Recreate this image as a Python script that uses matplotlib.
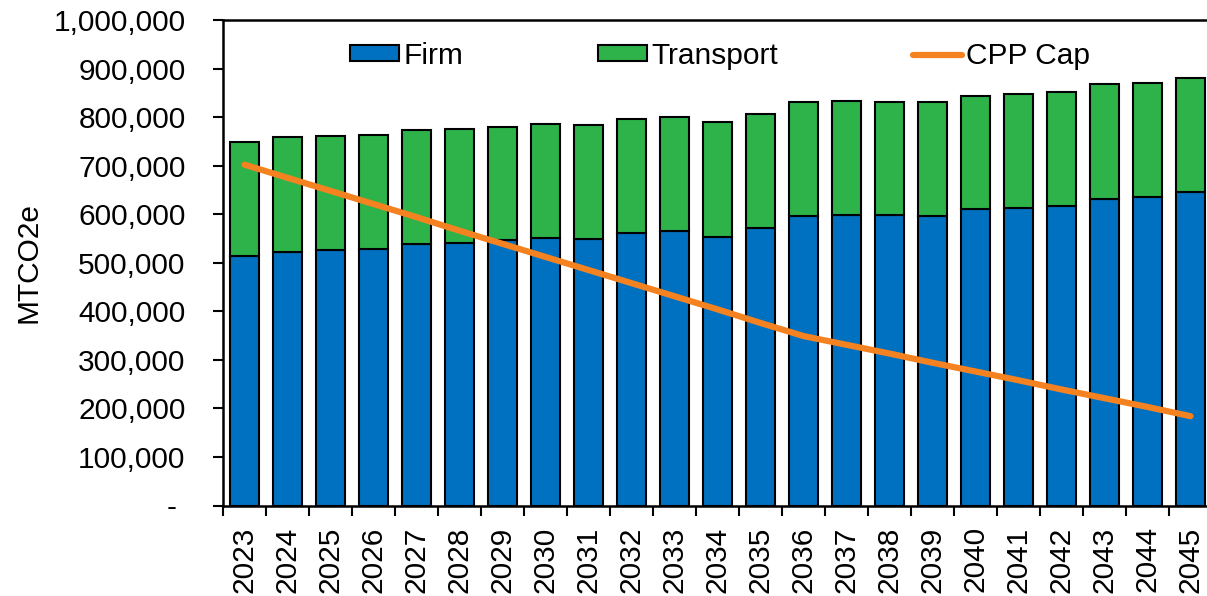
import matplotlib
matplotlib.use("Agg")
import matplotlib.pyplot as plt
import numpy as np
from matplotlib.ticker import FuncFormatter, FixedLocator

plt.rcParams['font.family'] = ['Liberation Sans', 'DejaVu Sans']

years = [str(y) for y in range(2023, 2046)]
firm = [513000, 523000, 526000, 528000, 539000, 541000, 546000, 551000, 549000,
        562000, 566000, 554000, 572000, 597000, 599000, 598000, 597000, 610000,
        613000, 617000, 632000, 635000, 645000]
total = [748000, 758000, 761000, 763000, 774000, 776000, 780000, 786000, 784000,
         796000, 800000, 790000, 807000, 831000, 833000, 832000, 831000, 844000,
         848000, 852000, 868000, 871000, 881000]
transport = [t - f for t, f in zip(total, firm)]
cpp_cap = [702000, 675000, 648000, 621000, 594000, 566000, 539000, 512000, 485000,
           458000, 431000, 404000, 376000, 349000, 331000, 313000, 294000, 276000,
           258000, 239000, 221000, 203000, 184000]

fig = plt.figure(figsize=(12.07, 5.96), dpi=100)
ax = fig.add_axes([223 / 1207, (596 - 505.5) / 596, 989 / 1207, 485.5 / 596])

x = np.arange(len(years))
b1 = ax.bar(x, firm, width=0.665, color='#0070C0', edgecolor='black', linewidth=1.5,
            label='Firm', zorder=2)
b2 = ax.bar(x, transport, bottom=firm, width=0.665, color='#2DB34A', edgecolor='black',
            linewidth=1.5, label='Transport', zorder=2)
l1, = ax.plot(x, cpp_cap, color='#F58220', linewidth=4.5, solid_capstyle='round',
              label='CPP Cap', zorder=3)

ax.set_xlim(-0.5, len(years) - 0.5)
ax.set_ylim(0, 1000000)
ax.set_yticks(np.arange(0, 1000001, 100000))
ax.yaxis.set_major_formatter(FuncFormatter(lambda v, p: '- ' if v == 0 else f'{int(v):,}'))
ax.tick_params(axis='y', labelsize=21.5, length=7, width=1.5, pad=20, direction='out')

ax.set_xticks(x)
ax.set_xticklabels(years, rotation=90)
ax.xaxis.set_minor_locator(FixedLocator(np.arange(-0.5, len(years), 1.0)))
ax.tick_params(axis='x', which='major', labelsize=21.5, length=0, pad=15)
ax.tick_params(axis='x', which='minor', length=7, width=1.5, direction='out')

for s in ['left', 'bottom', 'top']:
    ax.spines[s].set_linewidth(1.8)
ax.spines['right'].set_visible(False)

ax.set_ylabel('MTCO2e', fontsize=21.5)
ax.yaxis.set_label_coords(-0.183, 0.5)

ax.legend(handles=[b1, b2, l1], loc='center', bbox_to_anchor=(0.5025, 0.926), ncol=3,
          frameon=False, fontsize=21.5, handlelength=1.65, handleheight=0.45,
          handletextpad=0.15, columnspacing=4.5)

fig.savefig('out.png', dpi=100)
